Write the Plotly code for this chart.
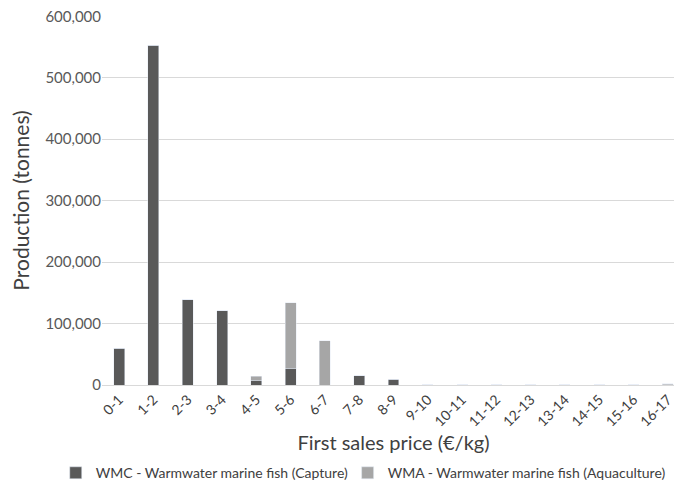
import plotly.graph_objects as go

categories = ["0-1", "1-2", "2-3", "3-4", "4-5", "5-6", "6-7", "7-8", "8-9", "9-10",
              "10-11", "11-12", "12-13", "13-14", "14-15", "15-16", "16-17"]
wmc_capture = [60000, 553000, 139000, 121000, 8000, 27000, 0, 15000, 9000, 500,
               300, 200, 200, 100, 100, 100, 300]
wma_aquaculture = [0, 0, 0, 0, 6000, 107000, 72000, 0, 0, 0,
                   0, 0, 0, 0, 0, 0, 2000]

font = "Lato, 'Open Sans', sans-serif"

fig = go.Figure()
fig.add_trace(go.Bar(x=categories, y=wmc_capture, name="WMC - Warmwater marine fish (Capture)",
                     marker_color="#595959", legend="legend", showlegend=True))
fig.add_trace(go.Bar(x=categories, y=wma_aquaculture, name="WMA - Warmwater marine fish (Aquaculture)",
                     marker_color="#a6a6a6", legend="legend2", showlegend=True))

leg = dict(orientation="h", xref="container", xanchor="left",
           yref="container", y=0.064, yanchor="middle", bgcolor="rgba(0,0,0,0)",
           font=dict(size=14, color="#404040"), itemwidth=30)

fig.update_layout(
    showlegend=True,
    barmode="stack",
    bargap=0.68,
    width=682, height=497,
    margin=dict(l=94, r=5, t=8, b=120, autoexpand=False),
    plot_bgcolor="white", paper_bgcolor="white",
    font=dict(family=font, color="#595959", size=13),
    legend=dict(leg, x=0.07),
    legend2=dict(leg, x=0.498),
)
fig.update_xaxes(
    type="category",
    title=dict(text="First sales price (€/kg)", font=dict(size=20, color="#404040"), standoff=1),
    tickangle=-45, showline=True, linecolor="#d9d9d9", ticks="",
    tickfont=dict(size=14, color="#404040"),
)
fig.update_yaxes(
    title=dict(text="Production (tonnes)", font=dict(size=21, color="#404040"), standoff=18),
    range=[0, 600500], tickvals=[0, 100000, 200000, 300000, 400000, 500000, 600000],
    tickformat=",", gridcolor="#d9d9d9", ticklabeloverflow="allow",
    tickfont=dict(size=15, color="#595959"), zeroline=False,
)

fig.write_html("out.html")
